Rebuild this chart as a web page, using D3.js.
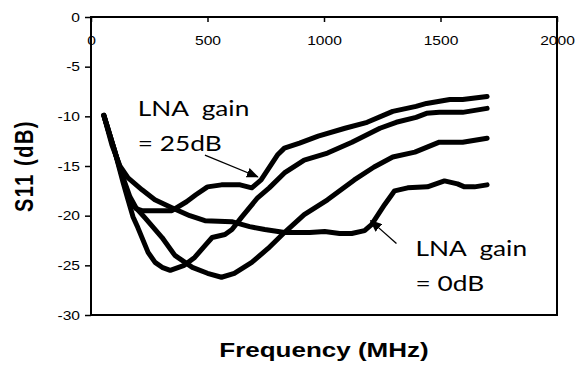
<!DOCTYPE html>
<html>
<head>
<meta charset="utf-8">
<script src="https://cdn.jsdelivr.net/npm/d3@7/dist/d3.min.js"></script>
<style>
  html, body { margin: 0; padding: 0; background: #fff; }
  svg { display: block; }
</style>
</head>
<body>
<svg id="chart" width="584" height="365"></svg>
<script>
// Input reflection S11 (dB) versus frequency (MHz) for four LNA gain settings

// LNA gain = 25 dB
const freqGain25 = [55, 103, 141, 167, 193, 219, 347, 410, 450, 500, 560, 640, 690, 730, 800, 830, 895, 975, 1090, 1185, 1295, 1395, 1440, 1540, 1595, 1700];
const s11Gain25  = [-9.9, -13.6, -16.6, -18.4, -19.3, -19.5, -19.5, -18.6, -17.9, -17.1, -16.9, -16.9, -17.2, -16.4, -13.9, -13.2, -12.7, -12.0, -11.2, -10.6, -9.5, -9.0, -8.7, -8.3, -8.3, -8.0];

// Intermediate gain (upper)
const freqGainHigh = [55, 103, 137, 159, 180, 201, 245, 275, 305, 340, 400, 445, 490, 520, 575, 605, 645, 715, 765, 830, 915, 1015, 1120, 1240, 1310, 1395, 1440, 1495, 1595, 1700];
const s11GainHigh  = [-9.9, -13.6, -16.6, -18.4, -20.1, -21.2, -23.7, -24.7, -25.2, -25.5, -25.0, -24.2, -23.0, -22.2, -21.9, -21.4, -20.2, -18.2, -17.2, -15.7, -14.4, -13.7, -12.6, -11.2, -10.6, -10.1, -9.7, -9.6, -9.6, -9.2];

// Intermediate gain (lower)
const freqGainLow = [55, 103, 141, 167, 193, 231, 305, 360, 435, 500, 560, 615, 690, 760, 830, 915, 1015, 1130, 1215, 1295, 1390, 1495, 1595, 1700];
const s11GainLow  = [-9.9, -13.6, -16.4, -18.1, -19.2, -20.2, -22.2, -24.0, -25.2, -25.8, -26.2, -25.8, -24.7, -23.3, -21.7, -19.9, -18.4, -16.4, -15.1, -14.1, -13.6, -12.6, -12.6, -12.2];

// LNA gain = 0 dB
const freqGain0 = [55, 90, 124, 159, 219, 274, 347, 424, 489, 604, 681, 746, 831, 939, 1003, 1067, 1119, 1174, 1204, 1260, 1303, 1359, 1444, 1517, 1573, 1603, 1646, 1700];
const s11Gain0  = [-9.9, -12.9, -15.0, -16.2, -17.4, -18.4, -19.2, -20.0, -20.5, -20.6, -21.1, -21.4, -21.7, -21.7, -21.6, -21.8, -21.8, -21.5, -20.9, -18.9, -17.5, -17.2, -17.1, -16.5, -16.8, -17.1, -17.1, -16.9];

const xTicks = [0, 500, 1000, 1500, 2000];
const yTicks = [0, -5, -10, -15, -20, -25, -30];

// Annotation texts, anchored in data units, and the curve points their arrows reach
const noteHigh = { lines: ["LNA  gain", "= 25dB"], freq: 201, s11: -9.97, lineGap: -3.55,
                   arrowFrom: [489, -13.9], arrowTo: [716, -16.1] };
const noteLow  = { lines: ["LNA  gain", "= 0dB"], freq: 1393, s11: -24.06, lineGap: -3.55,
                   arrowFrom: [1311, -22.8], arrowTo: [1200, -20.5] };

const series = [
  { freq: freqGain25,   s11: s11Gain25 },
  { freq: freqGainHigh, s11: s11GainHigh },
  { freq: freqGainLow,  s11: s11GainLow },
  { freq: freqGain0,    s11: s11Gain0 }
];

const svg = d3.select("#chart");
const textStretch = 1.25;

const x = d3.scaleLinear().domain([0, 2000]).range([91, 557]);
const y = d3.scaleLinear().domain([0, -30]).range([17, 315]);

// Frame of the plot area
svg.append("rect")
  .attr("x", x(0)).attr("y", y(0))
  .attr("width", x(2000) - x(0)).attr("height", y(-30) - y(0))
  .attr("fill", "none").attr("stroke", "#000").attr("stroke-width", 2);

// Frequency axis runs along the 0 dB line at the top, ticks pointing down
const xAxisG = svg.append("g")
  .attr("transform", `translate(0,${y(0)})`)
  .call(d3.axisBottom(x).tickValues(xTicks).tickFormat(d => String(d))
          .tickSizeInner(5).tickSizeOuter(0).tickPadding(14));
xAxisG.select(".domain").remove();
xAxisG.selectAll(".tick line").attr("stroke", "#000").attr("stroke-width", 1.5);
xAxisG.selectAll(".tick text")
  .attr("font-family", "'Liberation Sans', Arial, sans-serif")
  .attr("font-size", 12.5).attr("fill", "#000")
  .attr("transform", `scale(${textStretch},1)`);

const yAxisG = svg.append("g")
  .attr("transform", `translate(${x(0)},0)`)
  .call(d3.axisLeft(y).tickValues(yTicks).tickFormat(d => String(d))
          .tickSizeInner(6).tickSizeOuter(0).tickPadding(5));
yAxisG.select(".domain").remove();
yAxisG.selectAll(".tick line").attr("stroke", "#000").attr("stroke-width", 1.5);
yAxisG.selectAll(".tick text")
  .attr("font-family", "'Liberation Sans', Arial, sans-serif")
  .attr("font-size", 12.5).attr("fill", "#000")
  .attr("x", -11 / textStretch)
  .attr("transform", `scale(${textStretch},1)`);

// Curves
const line = d3.line()
  .x(d => x(d[0]))
  .y(d => y(d[1]));

svg.append("g").selectAll("path")
  .data(series)
  .join("path")
  .attr("d", s => line(s.freq.map((f, i) => [f, s.s11[i]])))
  .attr("fill", "none")
  .attr("stroke", "#000")
  .attr("stroke-width", 5)
  .attr("stroke-linejoin", "round")
  .attr("stroke-linecap", "round");

// Arrow marker
svg.append("defs").append("marker")
  .attr("id", "arrowhead")
  .attr("viewBox", "0 0 12 10")
  .attr("refX", 11).attr("refY", 5)
  .attr("markerWidth", 12).attr("markerHeight", 10)
  .attr("markerUnits", "userSpaceOnUse")
  .attr("orient", "auto")
  .append("path")
  .attr("d", "M0,0 L12,5 L0,10 Z")
  .attr("fill", "#000");

function annotate(note) {
  const g = svg.append("g");
  note.lines.forEach((t, i) => {
    g.append("g")
      .attr("transform", `translate(${x(note.freq)},${y(note.s11 + i * note.lineGap)}) scale(${textStretch},1)`)
      .append("text")
      .attr("font-family", "Lato, 'Open Sans', sans-serif")
      .attr("font-size", 21)
      .attr("fill", "#000")
      .style("white-space", "pre")
      .text(t);
  });
  g.append("line")
    .attr("x1", x(note.arrowFrom[0])).attr("y1", y(note.arrowFrom[1]))
    .attr("x2", x(note.arrowTo[0])).attr("y2", y(note.arrowTo[1]))
    .attr("stroke", "#000").attr("stroke-width", 1.3)
    .attr("marker-end", "url(#arrowhead)");
}
annotate(noteHigh);
annotate(noteLow);

// Axis titles
svg.append("g")
  .attr("transform", `translate(${(x(0) + x(2000)) / 2},357) scale(1.3,1)`)
  .append("text")
  .attr("text-anchor", "middle")
  .attr("font-family", "'Liberation Sans', Arial, sans-serif")
  .attr("font-weight", "bold")
  .attr("font-size", 20)
  .attr("fill", "#000")
  .text("Frequency (MHz)");

svg.append("g")
  .attr("transform", `translate(33,${(y(0) + y(-30)) / 2}) scale(${textStretch},1) rotate(-90)`)
  .append("text")
  .attr("text-anchor", "middle")
  .attr("font-family", "'Liberation Sans', Arial, sans-serif")
  .attr("font-weight", "bold")
  .attr("font-size", 20)
  .attr("letter-spacing", 1.5)
  .attr("fill", "#000")
  .text("S11 (dB)");
</script>
</body>
</html>
